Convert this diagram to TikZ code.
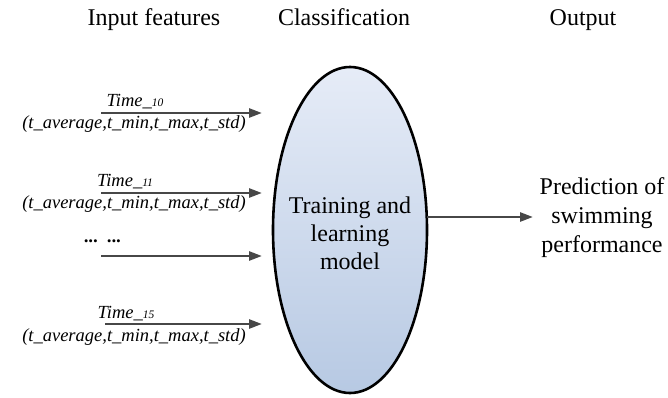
\documentclass[tikz,border=0pt]{standalone}
\usepackage{fontspec}
\setmainfont{Liberation Serif}
\usetikzlibrary{shapes.geometric,arrows.meta}
\begin{document}
\begin{tikzpicture}[x=1pt,y=-1pt,
  feat/.style={->,>={Triangle[length=13pt,width=9pt]},draw=black!72,line width=2.6pt},
  lbl/.style={font=\fontsize{18.5}{20}\selectfont\itshape,inner sep=0pt},
  title/.style={font=\fontsize{24}{26}\selectfont,inner sep=0pt,anchor=base},
  model/.style={ellipse,draw=black,line width=2.6pt,minimum width=154pt,minimum height=326pt,
    top color={rgb,255:red,230;green,236;blue,247},bottom color={rgb,255:red,183;green,201;blue,227},
    font=\fontsize{24}{28}\selectfont,align=center,inner sep=0pt}]
\useasboundingbox (0,0) rectangle (668,398);
\newcommand{\sm}[1]{{\fontsize{11.5}{11.5}\selectfont #1}}
\node[title] (t1) at (154,26) {Input features};
\node[title] (t2) at (344,26) {Classification};
\node[title] (t3) at (583,26) {Output};
\node[model] (m) at (350,230) {};
\node[font=\fontsize{24}{28}\selectfont,align=center,inner sep=0pt] (mt) at (350,233) {Training and\\learning\\model};
\coordinate (a1) at (101,113); \coordinate (b1) at (262,113);
\coordinate (a2) at (101,193); \coordinate (b2) at (262,193);
\coordinate (a3) at (101,256); \coordinate (b3) at (262,256);
\coordinate (a4) at (105,324); \coordinate (b4) at (262,324);
\draw[feat] (a1) -- (b1);
\draw[feat] (a2) -- (b2);
\draw[feat] (a3) -- (b3);
\draw[feat] (a4) -- (b4);
\node[lbl] (l1a) at (135,102) {Time\_\sm{10}};
\node[lbl] (l1b) at (134,124) {(t\_average,t\_min,t\_max,t\_std)};
\node[lbl] (l2a) at (125,182) {Time\_\sm{11}};
\node[lbl] (l2b) at (134,204) {(t\_average,t\_min,t\_max,t\_std)};
\node[lbl,font=\fontsize{18.5}{20}\selectfont\bfseries\itshape] (l3) at (103,241) {...\ \ ...};
\node[lbl] (l4a) at (126,314) {Time\_\sm{15}};
\node[lbl] (l4b) at (134,337) {(t\_average,t\_min,t\_max,t\_std)};
\coordinate (o1) at (427,217); \coordinate (o2) at (533,217);
\draw[feat] (o1) -- (o2);
\node[font=\fontsize{24}{29}\selectfont,align=center,inner sep=0pt] (out) at (602,218) {Prediction of\\swimming\\performance};
\end{tikzpicture}
\end{document}
